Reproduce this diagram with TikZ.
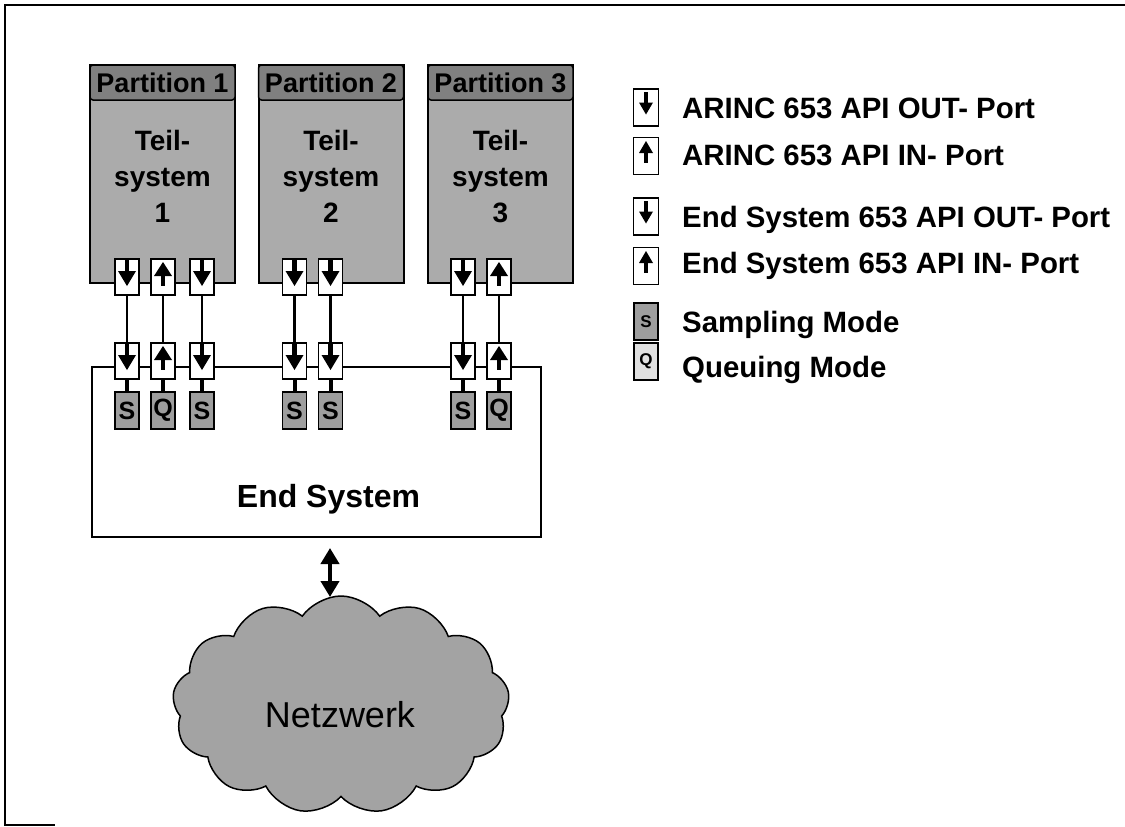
\documentclass[tikz,border=0pt]{standalone}
\usepackage{fontspec}
\setmainfont{Liberation Sans}
\usetikzlibrary{shapes.symbols,arrows.meta}
\tikzset{
  frameline/.style={line width=2pt},
  part/.style={draw, line width=2pt, fill=black!33, minimum width=145pt, minimum height=218pt, inner sep=0pt},
  parthead/.style={draw, line width=1.5pt, fill=black!50, rounded corners=3pt, minimum width=145pt, minimum height=35pt, inner sep=0pt, font=\fontsize{27}{30}\selectfont\bfseries},
  teil/.style={align=center, inner sep=0pt, font=\fontsize{28}{36}\selectfont\bfseries},
  port/.style={draw, line width=1.5pt, fill=white, minimum width=24pt, minimum height=36pt, inner sep=0pt},
  mode/.style={draw, line width=1.5pt, fill=black!38, minimum width=24pt, minimum height=37pt, inner sep=0pt, font=\fontsize{25}{25}\selectfont\bfseries},
  conn/.style={line width=2.5pt},
  modelink/.style={line width=4pt},
  esbox/.style={draw, line width=1.5pt, minimum width=449pt, minimum height=170pt, inner sep=0pt},
  estext/.style={font=\fontsize{32}{36}\selectfont\bfseries, inner sep=0pt, anchor=base},
  net/.style={cloud, cloud puffs=13, cloud puff arc=110, aspect=1.9, draw, line width=1.5pt, fill=black!36, minimum width=337pt, minimum height=218pt, inner sep=0pt},
  nettext/.style={font=\fontsize{36}{40}\selectfont, inner sep=0pt, anchor=base},
  dbl/.style={line width=4.5pt, {Triangle[width=18pt,length=16pt]}-{Triangle[width=18pt,length=16pt]}},
  legicon/.style={draw, line width=1.2pt, fill=white, minimum width=25pt, minimum height=37pt, inner sep=0pt},
  legmodeS/.style={draw, line width=1.2pt, fill=black!38, minimum width=24pt, minimum height=37pt, inner sep=0pt, font=\fontsize{17}{17}\selectfont\bfseries},
  legmodeQ/.style={draw, line width=1.2pt, fill=black!12, minimum width=24pt, minimum height=37pt, inner sep=0pt, font=\fontsize{17}{17}\selectfont\bfseries},
  legtext/.style={font=\fontsize{29.4}{35}\selectfont\bfseries, anchor=base west, inner sep=0pt},
  darr/.pic={\fill (-2.2,-18) rectangle (2.2,-5); \fill (-9,-6) -- (9,-6) -- (0,9) -- cycle;},
  uarr/.pic={\fill (-2.2,-2) rectangle (2.2,9); \fill (-9,-1) -- (9,-1) -- (0,-15) -- cycle;},
  ldarr/.pic={\fill (-1.8,-16) rectangle (1.8,-4); \fill (-7,-5) -- (7,-5) -- (0,7) -- cycle;},
  luarr/.pic={\fill (-1.8,-4) rectangle (1.8,7); \fill (-7,-3) -- (7,-3) -- (0,-15) -- cycle;},
}
\begin{document}
\begin{tikzpicture}[x=1pt,y=-1pt]
\useasboundingbox (0,0) rectangle (1125,827);
\draw[frameline] (1125,5) -- (5,5) -- (5,825) -- (55,825);

% partitions
\node[part] (p1) at (162.5,174) {};
\node[part] (p2) at (331,174) {};
\node[part] (p3) at (500.5,174) {};
\node[parthead] (h1) at (162.5,82.5) {Partition 1};
\node[parthead] (h2) at (331,82.5) {Partition 2};
\node[parthead] (h3) at (500.5,82.5) {Partition 3};
\node[teil, anchor=base] (s1) at (162.5,222) {Teil-\\system\\1};
\node[teil, anchor=base] (s2) at (331,222) {Teil-\\system\\2};
\node[teil, anchor=base] (s3) at (500.5,222) {Teil-\\system\\3};

% end system
\node[esbox] (es) at (316.5,452) {};
\node[estext] (est) at (328.5,507) {End System};

% top ports
\node[port] (t11) at (127,277) {}; \pic at (t11) {darr};
\node[port] (t12) at (163,277) {}; \pic at (t12) {uarr};
\node[port] (t13) at (202,277) {}; \pic at (t13) {darr};
\node[port] (t21) at (294.5,277) {}; \pic at (t21) {darr};
\node[port] (t22) at (330.5,277) {}; \pic at (t22) {darr};
\node[port] (t31) at (463,277) {}; \pic at (t31) {darr};
\node[port] (t32) at (499,277) {}; \pic at (t32) {uarr};

% end system ports
\node[port] (e11) at (127,361) {}; \pic at (e11) {darr};
\node[port] (e12) at (163,361) {}; \pic at (e12) {uarr};
\node[port] (e13) at (202,361) {}; \pic at (e13) {darr};
\node[port] (e21) at (294.5,361) {}; \pic at (e21) {darr};
\node[port] (e22) at (330.5,361) {}; \pic at (e22) {darr};
\node[port] (e31) at (463,361) {}; \pic at (e31) {darr};
\node[port] (e32) at (499,361) {}; \pic at (e32) {uarr};

% modes
\node[mode] (m11) at (127,410.5) {S};
\node[mode] (m12) at (163,410.5) {Q};
\node[mode] (m13) at (202,410.5) {S};
\node[mode] (m21) at (294.5,410.5) {S};
\node[mode] (m22) at (330.5,410.5) {S};
\node[mode] (m31) at (463,410.5) {S};
\node[mode] (m32) at (499,410.5) {Q};

\foreach \p in {11,12,13,21,22,31,32}{
  \draw[conn] (t\p.south) -- (e\p.north);
  \draw[modelink] (e\p.south) -- (m\p.north);
}

% network
\coordinate (a1) at (330,548);
\coordinate (a2) at (330,597);
\draw[dbl] (a1) -- (a2);
\node[net] (cl) at (341,705) {};
\node[nettext] (nt) at (340,727) {Netzwerk};

% legend
\node[legicon] (l1) at (646,107.5) {}; \pic at (l1) {ldarr};
\node[legicon] (l2) at (646,156) {}; \pic at (l2) {luarr};
\node[legicon] (l3) at (646,216.5) {}; \pic at (l3) {ldarr};
\node[legicon] (l4) at (646,266) {}; \pic at (l4) {luarr};
\node[legmodeS] (l5) at (646,321.5) {S};
\node[legmodeQ] (l6) at (646,361.5) {Q};
\node[legtext] (lt1) at (682,118) {ARINC 653 API OUT- Port};
\node[legtext] (lt2) at (682,165) {ARINC 653 API IN- Port};
\node[legtext] (lt3) at (682,227) {End System 653 API OUT- Port};
\node[legtext] (lt4) at (682,273) {End System 653 API IN- Port};
\node[legtext] (lt5) at (682,332) {Sampling Mode};
\node[legtext] (lt6) at (682,377) {Queuing Mode};
\end{tikzpicture}
\end{document}
